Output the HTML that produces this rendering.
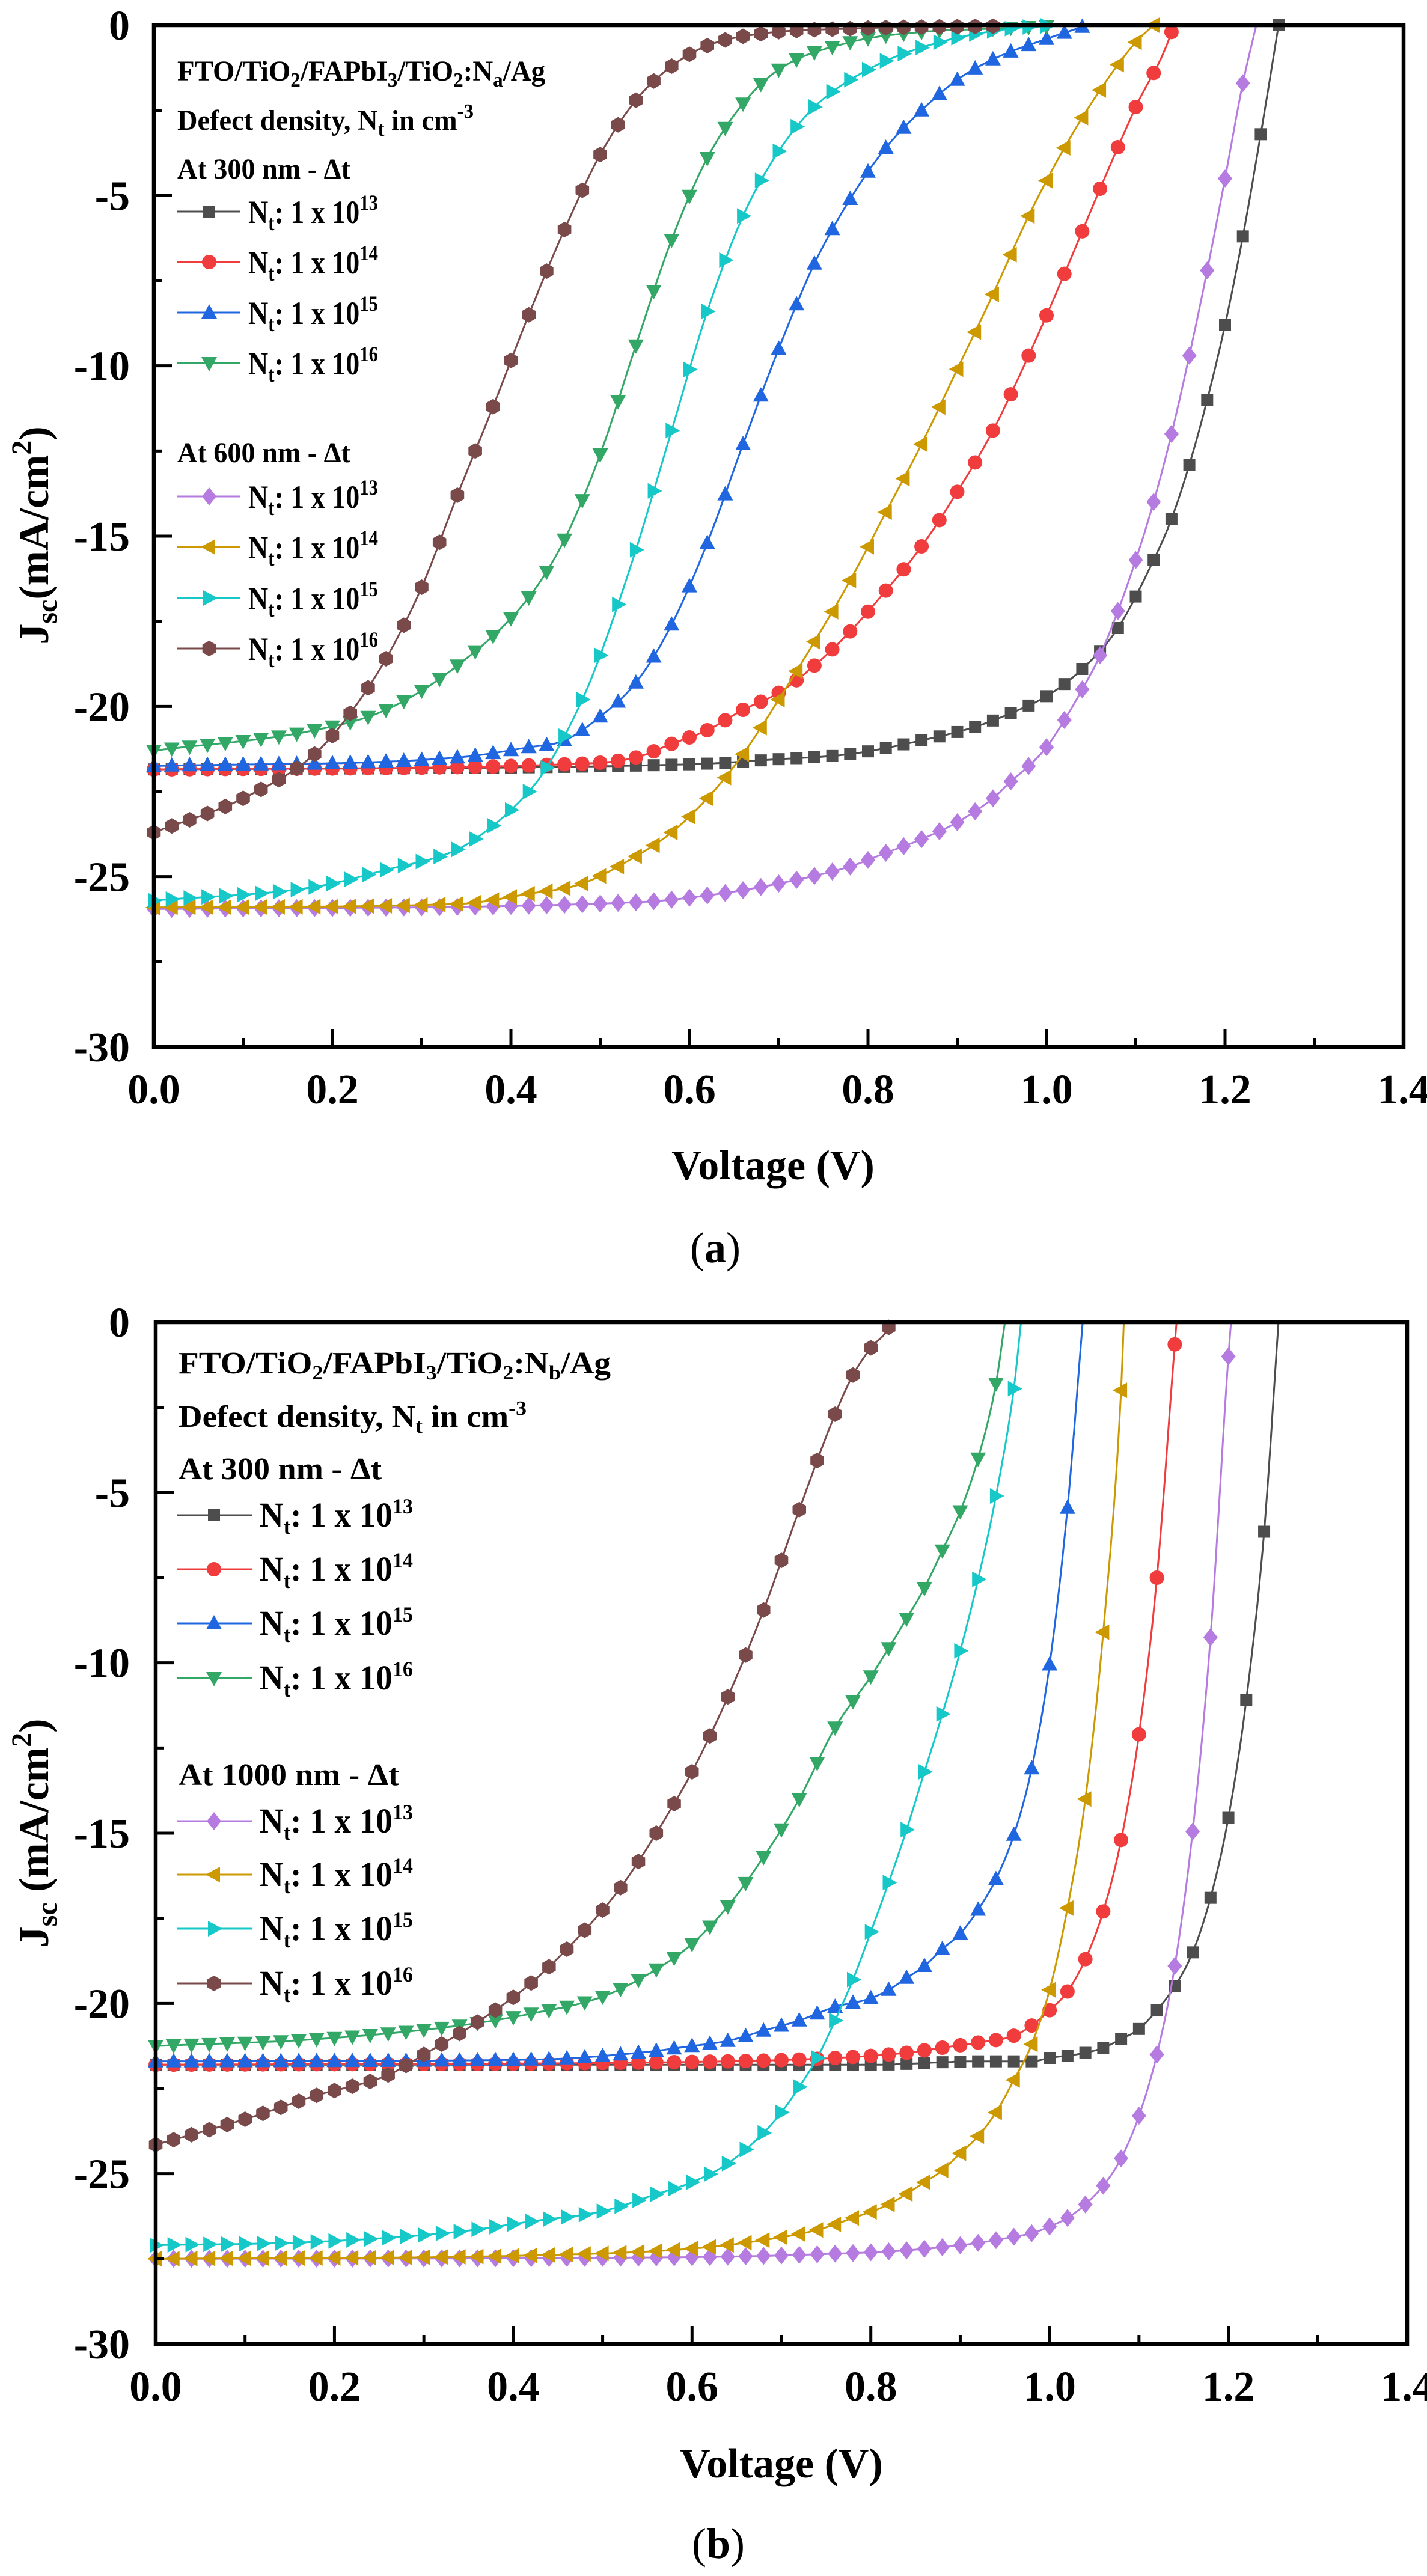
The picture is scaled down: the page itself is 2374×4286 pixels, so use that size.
<!DOCTYPE html>
<html><head><meta charset="utf-8">
<style>
html,body{margin:0;padding:0;background:#fff;}
svg{display:block;font-family:"Liberation Serif","Times New Roman","DejaVu Serif",serif;}
</style></head>
<body>
<svg id="s" xmlns="http://www.w3.org/2000/svg" width="2374" height="4286" viewBox="0 0 2374 4286">
<rect width="2374" height="4286" fill="#fff"/>
<g id="plots"></g>
<text x="1286" y="1962" font-size="70" font-weight="bold" text-anchor="middle">Voltage (V)</text>
<text x="1190" y="2100" font-size="72" text-anchor="middle">(<tspan font-weight="bold">a</tspan>)</text>
<text transform="translate(80,891) rotate(-90)" font-size="70" font-weight="bold" text-anchor="middle">J<tspan font-size="48" dy="14">sc</tspan><tspan dy="-14">(mA/cm</tspan><tspan font-size="48" dy="-28">2</tspan><tspan dy="28">)</tspan></text>
<text x="1300" y="4122" font-size="70" font-weight="bold" text-anchor="middle">Voltage (V)</text>
<text x="1195" y="4256" font-size="72" text-anchor="middle">(<tspan font-weight="bold">b</tspan>)</text>
<text transform="translate(80,3050) rotate(-90)" font-size="70" font-weight="bold" text-anchor="middle">J<tspan font-size="48" dy="14">sc</tspan><tspan dy="-14"> (mA/cm</tspan><tspan font-size="48" dy="-28">2</tspan><tspan dy="28">)</tspan></text>
</svg>
<script>
(function(){
var NS="http://www.w3.org/2000/svg";
var G=document.getElementById("plots");
function el(t,a,p){var e=document.createElementNS(NS,t);for(var k in a)e.setAttribute(k,a[k]);(p||G).appendChild(e);return e;}
function mono(P){
  var n=P.length,xs=P.map(p=>p[0]),ys=P.map(p=>p[1]),d=[],m=[];
  for(var i=0;i<n-1;i++)d.push((ys[i+1]-ys[i])/(xs[i+1]-xs[i]));
  m[0]=d[0];m[n-1]=d[n-2];
  for(i=1;i<n-1;i++){ if(d[i-1]*d[i]<=0)m[i]=0; else m[i]=(d[i-1]+d[i])/2; }
  for(i=0;i<n-1;i++){ if(d[i]==0){m[i]=0;m[i+1]=0;continue;} var a=m[i]/d[i],b=m[i+1]/d[i],s=a*a+b*b; if(s>9){var t=3/Math.sqrt(s);m[i]=t*a*d[i];m[i+1]=t*b*d[i];}}
  return function(x){ if(x<=xs[0])return ys[0]; if(x>=xs[n-1])return ys[n-1];
    var k=0;while(k<n-2&&x>xs[k+1])k++;
    var h=xs[k+1]-xs[k],t=(x-xs[k])/h,t2=t*t,t3=t2*t;
    return (2*t3-3*t2+1)*ys[k]+(t3-2*t2+t)*h*m[k]+(-2*t3+3*t2)*ys[k+1]+(t3-t2)*h*m[k+1];};
}
function marker(sh,cx,cy,c,g){
  var pts;
  if(sh=="sq"){el("rect",{x:cx-10,y:cy-10,width:20,height:20,fill:c},g);return;}
  if(sh=="ci"){el("circle",{cx:cx,cy:cy,r:12,fill:c},g);return;}
  if(sh=="up")pts=[[0,-14],[13,10],[-13,10]];
  else if(sh=="dn")pts=[[0,14],[13,-10],[-13,-10]];
  else if(sh=="lf")pts=[[-14,0],[10,-13],[10,13]];
  else if(sh=="rt")pts=[[14,0],[-10,-13],[-10,13]];
  else if(sh=="di")pts=[[0,-15],[12,0],[0,15],[-12,0]];
  else if(sh=="hx"){pts=[];for(var i=0;i<6;i++){var a=Math.PI/2+i*Math.PI/3;pts.push([13*Math.cos(a),13*Math.sin(a)]);}}
  el("polygon",{points:pts.map(p=>(cx+p[0]).toFixed(1)+","+(cy+p[1]).toFixed(1)).join(" "),fill:c},g);
}
var COL={k:"#4d4d4d",r:"#f03c3c",b:"#1f66e0",g:"#33a866",p:"#b57be0",o:"#cc9900",c:"#17c8c8",h:"#7a4a4a"};
function plot(o){
  var X=v=>o.x0+(o.x1-o.x0)*v/1.4, Y=j=>o.y0+(o.y1-o.y0)*(-j)/30;
  var g=el("g",{});
  o.series.forEach(function(s){
    var f=mono(s.d), last=s.d[s.d.length-1][0], path="";
    for(var v=0;v<=last+1e-9;v+=0.002){var j=Math.min(0,f(v));path+=(path?"L":"M")+X(v).toFixed(1)+","+Y(j).toFixed(1);}
    path+="L"+X(last).toFixed(1)+","+Y(Math.min(0,f(last))).toFixed(1);
    el("path",{d:path,fill:"none",stroke:s.c,"stroke-width":3},g);
    for(var k=0;k*0.02<=last+1e-6;k++){var vv=k*0.02,jj=f(vv); if(jj>0.05)break; marker(s.m,X(vv),Y(Math.min(0,jj)),s.c,g);}
  });
  el("rect",{x:o.x0,y:o.y0,width:o.x1-o.x0,height:o.y1-o.y0,fill:"none",stroke:"#000","stroke-width":6.5},g);
  for(var i=0;i<=14;i++){var x=X(i*0.1),L=(i%2==0)?30:15; if(i>0&&i<14)el("line",{x1:x,y1:o.y1,x2:x,y2:o.y1-L,stroke:"#000","stroke-width":5},g);
    if(i%2==0){var t=el("text",{x:x,y:o.y1+94,"font-size":70,"font-weight":"bold","text-anchor":"middle"},g);t.textContent=(i/10).toFixed(1);}}
  for(i=0;i<=12;i++){var y=Y(-i*2.5),L=(i%2==0)?30:14; if(i>0&&i<12)el("line",{x1:o.x0,y1:y,x2:o.x0+L,y2:y,stroke:"#000","stroke-width":5},g);
    if(i%2==0){var t=el("text",{x:216,y:y+24,"font-size":70,"font-weight":"bold","text-anchor":"end"},g);t.textContent=(i==0?"0":"-"+(i*2.5));}}
  var L=o.leg;
  function txt(x,y,html,len,fs){var t=el("text",{x:x,y:y,"font-size":fs,"font-weight":"bold",textLength:len,lengthAdjust:"spacingAndGlyphs"},g);t.innerHTML=html;}
  txt(L.tx,L.h[0],"FTO/TiO<tspan font-size='34' dy='10'>2</tspan><tspan dy='-10'>/FAPbI</tspan><tspan font-size='34' dy='10'>3</tspan><tspan dy='-10'>/TiO</tspan><tspan font-size='34' dy='10'>2</tspan><tspan dy='-10'>:N</tspan><tspan font-size='34' dy='10'>"+L.sub+"</tspan><tspan dy='-10'>/Ag</tspan>",L.w[0],L.fs);
  txt(L.tx,L.h[1],"Defect density, N<tspan font-size='34' dy='10'>t</tspan><tspan dy='-10'> in cm</tspan><tspan font-size='34' dy='-20'>-3</tspan>",L.w[1],L.fs);
  txt(L.tx,L.h[2],"At 300 nm - Δt",L.w[2],L.fs);
  txt(L.tx,L.h[3],L.second,L.w[3],L.fs);
  o.series.forEach(function(s,i){
    var cy=L.e[i];
    el("line",{x1:L.lx0,y1:cy,x2:L.lx1,y2:cy,stroke:s.c,"stroke-width":3},g);
    marker(s.m,L.mx,cy,s.c,g);
    var t=el("text",{x:L.ex,y:cy+19,"font-size":L.fs+6,"font-weight":"bold",textLength:L.w[4],lengthAdjust:"spacingAndGlyphs"},g);
    t.innerHTML="N<tspan font-size='36' dy='12'>t</tspan><tspan dy='-12'>: 1 x 10</tspan><tspan font-size='36' dy='-22'>"+(13+(i%4))+"</tspan>";
  });
}
plot({x0:256,x1:2335,y0:42,y1:1742,
 leg:{tx:295,fs:48,sub:"a",h:[134,216,297,769],w:[612,493,288,288,216],lx0:295,lx1:400,mx:348,ex:413,e:[352,436,520,604,826,910,995,1079],second:"At 600 nm - Δt"},
 series:[
 {c:COL.k,m:"sq",d:[[0,-21.85],[0.6,-21.7],[0.7,-21.55],[0.78,-21.4],[0.86,-21.0],[0.92,-20.6],[0.96,-20.2],[1.0,-19.7],[1.04,-18.9],[1.08,-17.7],[1.12,-15.7],[1.14,-14.5],[1.16,-12.9],[1.18,-11.0],[1.2,-8.8],[1.22,-6.2],[1.24,-3.2],[1.26,0]]},
 {c:COL.r,m:"ci",d:[[0,-21.85],[0.46,-21.7],[0.54,-21.5],[0.58,-21.1],[0.62,-20.7],[0.66,-20.1],[0.7,-19.6],[0.74,-18.8],[0.78,-17.8],[0.82,-16.6],[0.86,-15.3],[0.9,-13.7],[0.94,-11.9],[0.98,-9.7],[1.02,-7.3],[1.06,-4.8],[1.1,-2.4],[1.14,-0.2],[1.142,0]]},
 {c:COL.b,m:"up",d:[[0,-21.75],[0.34,-21.5],[0.42,-21.2],[0.46,-21],[0.5,-20.3],[0.54,-19.3],[0.58,-17.6],[0.62,-15.2],[0.66,-12.3],[0.7,-9.5],[0.74,-7.0],[0.78,-5.1],[0.82,-3.6],[0.86,-2.5],[0.9,-1.6],[0.94,-1.0],[1.0,-0.4],[1.04,-0.05]]},
 {c:COL.g,m:"dn",d:[[0,-21.3],[0.18,-20.7],[0.26,-20.1],[0.34,-18.8],[0.42,-16.8],[0.46,-15.1],[0.5,-12.6],[0.54,-9.4],[0.58,-6.3],[0.62,-3.9],[0.66,-2.3],[0.7,-1.3],[0.78,-0.5],[0.86,-0.2],[0.94,-0.1],[1.0,-0.03]]},
 {c:COL.p,m:"di",d:[[0,-25.95],[0.54,-25.75],[0.62,-25.55],[0.7,-25.2],[0.78,-24.7],[0.82,-24.3],[0.86,-23.9],[0.9,-23.4],[0.94,-22.7],[0.96,-22.2],[0.98,-21.75],[1.0,-21.2],[1.02,-20.4],[1.04,-19.5],[1.06,-18.5],[1.08,-17.2],[1.1,-15.7],[1.12,-14],[1.14,-12],[1.16,-9.7],[1.18,-7.2],[1.2,-4.5],[1.22,-1.7],[1.235,0]]},
 {c:COL.o,m:"lf",d:[[0,-25.9],[0.34,-25.8],[0.42,-25.5],[0.48,-25.2],[0.54,-24.4],[0.58,-23.7],[0.62,-22.7],[0.66,-21.4],[0.7,-19.8],[0.74,-18.1],[0.78,-16.3],[0.82,-14.3],[0.86,-12.3],[0.9,-10.1],[0.94,-7.9],[0.98,-5.6],[1.02,-3.6],[1.06,-1.9],[1.1,-0.5],[1.12,0]]},
 {c:COL.c,m:"rt",d:[[0,-25.7],[0.18,-25.3],[0.26,-24.8],[0.34,-24.2],[0.38,-23.5],[0.42,-22.5],[0.44,-21.8],[0.48,-19.8],[0.5,-18.5],[0.54,-15.4],[0.58,-11.9],[0.62,-8.4],[0.66,-5.6],[0.7,-3.7],[0.74,-2.4],[0.8,-1.3],[0.88,-0.5],[0.96,-0.1],[1.0,-0.02]]},
 {c:COL.h,m:"hx",d:[[0,-23.7],[0.1,-22.7],[0.18,-21.4],[0.22,-20.2],[0.26,-18.6],[0.3,-16.5],[0.34,-13.8],[0.38,-11.2],[0.42,-8.5],[0.46,-6.0],[0.5,-3.8],[0.54,-2.2],[0.58,-1.2],[0.62,-0.6],[0.68,-0.25],[0.78,-0.1],[0.94,-0.03]]}
 ]});
plot({x0:259,x1:2341,y0:2200,y1:3900,
 leg:{tx:297,fs:52,sub:"b",h:[2285,2374,2461,2970],w:[719,579,338,367,255],lx0:295,lx1:419,mx:356,ex:432,e:[2521,2611,2701,2792,3030,3119,3209,3300],second:"At 1000 nm - Δt"},
 series:[
 {c:COL.k,m:"sq",d:[[0,-21.8],[0.8,-21.8],[0.92,-21.7],[0.98,-21.7],[1.0,-21.6],[1.04,-21.45],[1.06,-21.3],[1.08,-21.05],[1.1,-20.75],[1.12,-20.2],[1.14,-19.5],[1.16,-18.5],[1.18,-16.9],[1.2,-14.55],[1.22,-11.1],[1.24,-6.15],[1.256,0]]},
 {c:COL.r,m:"ci",d:[[0,-21.8],[0.64,-21.7],[0.76,-21.6],[0.84,-21.45],[0.88,-21.3],[0.92,-21.15],[0.96,-20.95],[0.98,-20.65],[1.0,-20.2],[1.02,-19.65],[1.04,-18.7],[1.06,-17.3],[1.08,-15.2],[1.1,-12.1],[1.12,-7.5],[1.14,-0.65],[1.142,0]]},
 {c:COL.b,m:"up",d:[[0,-21.7],[0.42,-21.65],[0.54,-21.45],[0.6,-21.25],[0.64,-21.1],[0.68,-20.8],[0.72,-20.5],[0.76,-20.1],[0.8,-19.85],[0.82,-19.6],[0.84,-19.25],[0.86,-18.9],[0.88,-18.4],[0.9,-17.95],[0.92,-17.25],[0.94,-16.35],[0.96,-15.05],[0.98,-13.1],[1.0,-10.05],[1.02,-5.45],[1.037,0]]},
 {c:COL.g,m:"dn",d:[[0,-21.25],[0.18,-21.05],[0.34,-20.65],[0.42,-20.3],[0.5,-19.8],[0.56,-19.0],[0.6,-18.25],[0.64,-17.15],[0.68,-15.7],[0.72,-14.0],[0.76,-11.9],[0.8,-10.4],[0.84,-8.7],[0.86,-7.8],[0.88,-6.7],[0.9,-5.55],[0.92,-4.0],[0.94,-1.8],[0.95,0]]},
 {c:COL.p,m:"di",d:[[0,-27.5],[0.6,-27.45],[0.76,-27.35],[0.84,-27.25],[0.9,-27.1],[0.94,-26.95],[0.96,-26.85],[0.98,-26.75],[1.0,-26.55],[1.02,-26.3],[1.04,-25.9],[1.06,-25.35],[1.08,-24.55],[1.1,-23.3],[1.12,-21.5],[1.14,-18.9],[1.16,-14.95],[1.18,-9.25],[1.2,-1.0],[1.203,0]]},
 {c:COL.o,m:"lf",d:[[0,-27.5],[0.42,-27.4],[0.6,-27.2],[0.68,-26.95],[0.74,-26.65],[0.78,-26.3],[0.82,-25.9],[0.86,-25.25],[0.88,-24.9],[0.9,-24.4],[0.92,-23.9],[0.94,-23.2],[0.96,-22.25],[0.98,-21.2],[1.0,-19.6],[1.02,-17.2],[1.04,-14.0],[1.06,-9.1],[1.08,-2.0],[1.083,0]]},
 {c:COL.c,m:"rt",d:[[0,-27.1],[0.18,-27.0],[0.34,-26.7],[0.42,-26.4],[0.5,-26.1],[0.56,-25.6],[0.6,-25.25],[0.64,-24.7],[0.68,-23.8],[0.7,-23.2],[0.72,-22.45],[0.74,-21.6],[0.76,-20.5],[0.78,-19.3],[0.8,-17.9],[0.82,-16.45],[0.84,-14.9],[0.86,-13.2],[0.88,-11.5],[0.9,-9.65],[0.92,-7.55],[0.94,-5.1],[0.96,-1.95],[0.968,0]]},
 {c:COL.h,m:"hx",d:[[0,-24.15],[0.1,-23.4],[0.18,-22.7],[0.26,-22.1],[0.3,-21.5],[0.36,-20.55],[0.42,-19.4],[0.48,-17.85],[0.52,-16.6],[0.56,-15.0],[0.6,-13.2],[0.64,-11.0],[0.68,-8.45],[0.72,-5.5],[0.76,-2.7],[0.78,-1.55],[0.8,-0.75],[0.82,-0.15],[0.822,0]]}
 ]});
})();
</script>
</body></html>
